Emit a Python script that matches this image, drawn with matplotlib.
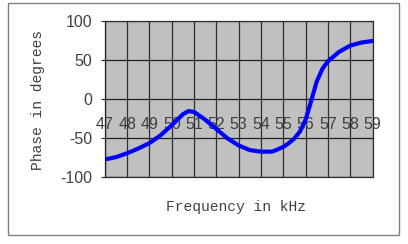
import matplotlib
matplotlib.use("Agg")
import matplotlib.pyplot as plt
from matplotlib.patches import Rectangle

# frequency (kHz) and phase (degrees)
freq = [47, 47.5, 48, 48.5, 49, 49.5, 50, 50.5, 50.75, 51, 51.5, 52, 52.5, 53,
        53.5, 54, 54.5, 55, 55.25, 55.5, 55.75, 56, 56.25, 56.5, 56.75, 57,
        57.5, 58, 58.5, 59]
phase = [-77, -74, -69, -63, -56, -46, -33, -19, -15, -16, -26, -38, -50, -59,
         -65, -67, -67, -61, -56, -50, -41, -26, -2, 23, 39, 49,
         61, 69, 73, 75]
categories = list(range(47, 60))
y_ticks = [-100, -50, 0, 50, 100]

fig = plt.figure(figsize=(4.08, 2.44), dpi=100)
ax = fig.add_axes([0.257, 0.273, 0.656, 0.639])

# outer chart frame
fig.patches.append(Rectangle((8 / 408, 1 - 235 / 244), 391 / 408, 232 / 244,
                             transform=fig.transFigure, fill=False,
                             edgecolor="#808080", linewidth=1))

ax.set_facecolor("#C0C0C0")
ax.set_xlim(47, 59)
ax.set_ylim(-100, 100)

for c in categories:
    ax.axvline(c, color="#303030", linewidth=0.9, zorder=1)
for t in y_ticks:
    ax.axhline(t, color="#202020", linewidth=0.9, zorder=1)

ax.plot(freq, phase, color="#0000FF", linewidth=3, solid_capstyle="round", zorder=3)

for c in categories:
    ax.text(c, -32, str(c), ha="center", va="center", fontsize=11.5,
            family="Liberation Sans", color="#404040", zorder=2)

ax.set_xticks([])
ax.set_yticks(y_ticks)
ax.set_yticklabels([str(t) for t in y_ticks], fontsize=11.5, family="Liberation Sans",
                   color="#404040")
ax.tick_params(axis="y", length=3, pad=6, color="#202020")

for s in ax.spines.values():
    s.set_color("#303030")
    s.set_linewidth(0.9)
ax.spines["left"].set_color("#202020")

fig.text(236 / 408, 1 - 207 / 244, "Frequency in kHz", ha="center", va="center",
         fontsize=10.5, family="Liberation Mono", color="#404040")
fig.text(38 / 408, 1 - 100 / 244, "Phase in degrees", ha="center", va="center",
         rotation=90, fontsize=10.5, family="Liberation Mono", color="#404040")

fig.savefig("out.png", dpi=100)
